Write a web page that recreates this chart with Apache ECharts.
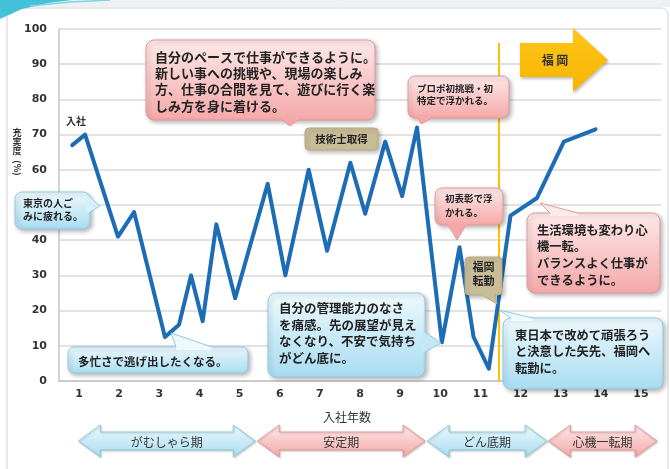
<!DOCTYPE html>
<html><head><meta charset="utf-8">
<script src="https://cdn.jsdelivr.net/npm/echarts@6/dist/echarts.min.js"></script>
<style>html,body{margin:0;padding:0;background:#fff}#c{width:670px;height:469px}</style>
</head><body><div id="c"></div>
<script>
// ---- data ----
const years = ['1','2','3','4','5','6','7','8','9','10','11','12','13','14','15'];
const pointYear = [0.83, 1.15, 1.97, 2.37, 3.14, 3.49, 3.79, 4.08, 4.42, 4.89, 5.70, 6.14, 6.72, 7.18, 7.76, 8.13, 8.63, 9.05, 9.42, 10.04, 10.48, 10.83, 11.21, 11.75, 12.41, 13.08, 13.87];
const satisfaction = [67, 70, 41, 48, 12.5, 16, 30, 17, 44.5, 23.5, 56, 30, 60, 37, 62, 47.5, 68, 52.5, 72, 11, 38, 12.5, 3.5, 47, 52, 68, 71.5];
const moveYear = 11.45;
const moveLineTop = 96;
const periodNames = ['がむしゃら期', '安定期', 'どん底期', '心機一転期'];
const periodStart = [0.98, 5.44, 9.67, 12.69];
const periodEnd = [5.39, 9.62, 12.66, 15.4];
const periodKind = ['blue', 'pink', 'blue', 'pink'];

const JP = '"Noto Sans CJK JP", "Noto Sans CJK SC", sans-serif';

const chart = echarts.init(document.getElementById('c'), null, {renderer: 'canvas'});
chart.setOption({
  animation: false,
  backgroundColor: '#ffffff',
  textStyle: {fontFamily: JP},
  grid: {left: 59, right: 9, top: 29, bottom: 88, containLabel: false},
  xAxis: [
    {type: 'category', data: years, boundaryGap: true,
     axisLine: {lineStyle: {color: '#c4c4c4', width: 1.5}}, axisTick: {show: false},
     axisLabel: {color: '#333', fontFamily: 'DejaVu Sans', fontWeight: 'bold', fontSize: 11, margin: 8},
     splitLine: {show: false}},
    {type: 'value', min: 0.5, max: 15.5, show: false}
  ],
  yAxis: {type: 'value', min: 0, max: 100, interval: 10,
    axisLine: {show: true, lineStyle: {color: '#c4c4c4', width: 1.5}}, axisTick: {show: false},
    splitLine: {lineStyle: {color: '#d9d9d9', width: 1.5}},
    axisLabel: {color: '#333', fontFamily: 'DejaVu Sans', fontWeight: 'bold', fontSize: 11, margin: 12}},
  series: [{
    type: 'line', xAxisIndex: 1, z: 5,
    data: pointYear.map((x, i) => [x, satisfaction[i]]),
    showSymbol: false, symbol: 'none',
    lineStyle: {color: '#1c6cb6', width: 4, join: 'round', cap: 'round'},
    markLine: {silent: true, symbol: 'none', label: {show: false}, z: 4,
      lineStyle: {color: '#FFC000', width: 2, type: 'solid'},
      data: [[{coord: [moveYear, 0]}, {coord: [moveYear, moveLineTop]}]]}
  }]
});

// ---- annotation styles ----
const PAL = {
  pink: {top: '#FDE9E9', bottom: '#F4A8A8', stroke: '#E39A9A'},
  blue: {top: '#EEF9FD', bottom: '#A8DCF1', stroke: '#92CADF'},
  tan:  {top: '#C9BD98', bottom: '#C4B792', stroke: '#B7AA83', flat: true}
};
function hex(c){return [1,3,5].map(i=>parseInt(c.substr(i,2),16));}
function lerp(a,b,t){const A=hex(a),B=hex(b);return 'rgb('+A.map((v,i)=>Math.round(v+(B[i]-v)*t)).join(',')+')';}
function grad(p){return p.flat ? p.top : new echarts.graphic.LinearGradient(0,0,0,1,[{offset:0,color:p.top},{offset:1,color:p.bottom}]);}

function bubble(b){
  const p = PAL[b.kind];
  const els = [];
  els.push({type:'rect', z:100, shape:{x:b.x,y:b.y,width:b.w,height:b.h,r:b.r||8},
    style:{fill:grad(p), stroke:p.stroke, lineWidth:1, shadowBlur:4, shadowOffsetX:2, shadowOffsetY:2, shadowColor:'rgba(0,0,0,0.28)'}});
  if (b.tail){
    const [a,tip,c] = b.tail;
    const n = {top:[0,3],bottom:[0,-3],left:[3,0],right:[-3,0]}[b.side];
    const t = Math.min(1,Math.max(0,((a[1]+c[1])/2-b.y)/b.h));
    const tf = p.flat ? p.top : lerp(p.top,p.bottom,t);
    els.push({type:'polygon', z:101, shape:{points:[[a[0]+n[0],a[1]+n[1]],a,tip,c,[c[0]+n[0],c[1]+n[1]]]}, style:{fill:tf}});
    els.push({type:'polyline', z:102, shape:{points:[a,tip,c]}, style:{stroke:p.stroke, lineWidth:1, fill:null}});
  }
  els.push({type:'text', z:103, style:{text:b.text, x:b.tx, y:b.ty, fill:'#222', fontSize:b.fs, fontWeight:'bold',
    fontFamily:JP, lineHeight:b.lh, verticalAlign:'top', align:b.align||'left'}});
  return els;
}

const bubbles = [
  {kind:'pink', x:146, y:40, w:229, h:80, tx:155, ty:48.8, fs:13, lh:16.3,
   text:'自分のペースで仕事ができるように。\n新しい事への挑戦や、現場の楽しみ\n方、仕事の合間を見て、遊びに行く楽\nしみ方を身に着ける。',
   side:'bottom', tail:[[282,120],[290,126],[298,120]]},
  {kind:'tan', x:305, y:128, w:73, h:22, r:4, tx:341.5, ty:132.5, fs:10.5, lh:13, align:'center', text:'技術士取得'},
  {kind:'pink', x:408, y:76, w:101, h:42, r:7, tx:417, ty:81.8, fs:9.5, lh:12.5,
   text:'プロポ初挑戦・初\n特定で浮かれる。', side:'bottom', tail:[[418,118],[421,124],[432,118]]},
  {kind:'blue', x:15, y:192, w:75, h:37, r:7, tx:23, ty:196.5, fs:10, lh:13,
   text:'東京の人ご\nみに疲れる。', side:'right', tail:[[90,197],[100,206],[90,212]]},
  {kind:'blue', x:68, y:347, w:180, h:26, r:6, tx:78, ty:355, fs:11.5, lh:14,
   text:'多忙さで逃げ出したくなる。', side:'top', tail:[[176,347],[171,333],[212,347]]},
  {kind:'blue', x:268, y:293, w:157, h:84, tx:279, ty:299.7, fs:12.5, lh:16.7,
   text:'自分の管理能力のなさ\nを痛感。先の展望が見え\nなくなり、不安で気持ち\nがどん底に。', side:'right', tail:[[425,332],[441,343],[425,352]]},
  {kind:'pink', x:435, y:188, w:68, h:37, r:7, tx:445, ty:191, fs:9.5, lh:14,
   text:'初表彰で浮\nかれる。', side:'bottom', tail:[[448,225],[457,240],[466,225]]},
  {kind:'tan', x:465, y:257, w:37, h:38, r:4, tx:483.5, ty:260, fs:11, lh:14, align:'center',
   text:'福岡\n転勤', side:'bottom', tail:[[482,295],[497,304],[495,295]]},
  {kind:'pink', x:527, y:213, w:133, h:80, tx:537, ty:221.7, fs:12.3, lh:16.7,
   text:'生活環境も変わり心\n機一転。\nバランスよく仕事が\nできるように。', side:'top', tail:[[550,213],[540,203],[578,213]]},
  {kind:'blue', x:503, y:318, w:160, h:71, tx:515, ty:326.8, fs:12.3, lh:16.5,
   text:'東日本で改めて頑張ろう\nと決意した矢先、福岡へ\n転勤に。', side:'top', tail:[[511,318],[499,310],[533,318]]}
];

const els = [];
// slide frame & decoration
els.push({type:'rect', z:0, shape:{x:0,y:0,width:670,height:7}, style:{fill:'#eef1f3'}});
els.push({type:'rect', z:1, shape:{x:7,y:8,width:661,height:475,r:6}, style:{fill:null, stroke:'#d2d2d2', lineWidth:1}});
els.push({type:'polygon', z:2, shape:{points:[[0,0],[72,0],[48,3],[22,9],[0,19]]}, style:{fill:'#42c2d8'}});
els.push({type:'polyline', z:2, shape:{points:[[30,6],[70,2],[110,0]]}, style:{stroke:'#7fd3e3', lineWidth:1.5, fill:null}});

// Fukuoka arrow
els.push({type:'polygon', z:90, shape:{points:[[520,43],[573,43],[573,28],[608,60],[573,92],[573,77],[520,77]]},
  style:{fill:new echarts.graphic.LinearGradient(0,0,0,1,[{offset:0,color:'#FFC61A'},{offset:1,color:'#F6B400'}]),
  shadowBlur:3, shadowOffsetX:1, shadowOffsetY:2, shadowColor:'rgba(0,0,0,0.25)'}});
els.push({type:'text', z:91, style:{text:'福 岡', x:555, y:60, align:'center', verticalAlign:'middle', fill:'#333', fontSize:12, fontWeight:'bold', fontFamily:JP}});

// 入社 label
els.push({type:'text', z:91, style:{text:'入社', x:76, y:121, align:'center', verticalAlign:'middle', fill:'#333', fontSize:10, fontWeight:'bold', fontFamily:JP}});

// y axis name
els.push({type:'text', z:91, style:{text:'充\n実\n度', x:17, y:127.5, align:'center', verticalAlign:'top', lineHeight:9.3, fill:'#333', fontSize:9, fontWeight:'bold', fontFamily:JP}});
els.push({type:'text', z:91, x:17, y:168, rotation:-Math.PI/2, style:{text:'(%)', x:0, y:0, align:'center', verticalAlign:'middle', fill:'#333', fontSize:9, fontWeight:'bold', fontFamily:JP}});

// x axis name
els.push({type:'text', z:91, style:{text:'入社年数', x:347, y:417, align:'center', verticalAlign:'middle', fill:'#333', fontSize:12, fontFamily:JP}});

bubbles.forEach(b => bubble(b).forEach(e => els.push(e)));

// period arrows
const cy = 441, hh = 16, sh = 9, hl = 22;
periodNames.forEach((name, i) => {
  const x0 = chart.convertToPixel({xAxisIndex: 1}, periodStart[i]);
  const x1 = chart.convertToPixel({xAxisIndex: 1}, periodEnd[i]);
  const p = PAL[periodKind[i]];
  els.push({type:'polygon', z:80, shape:{points:[[x0,cy],[x0+hl,cy-hh],[x0+hl,cy-sh],[x1-hl,cy-sh],[x1-hl,cy-hh],[x1,cy],[x1-hl,cy+hh],[x1-hl,cy+sh],[x0+hl,cy+sh],[x0+hl,cy+hh]]},
    style:{fill:grad(p), stroke:p.stroke, lineWidth:1, shadowBlur:2, shadowOffsetX:1, shadowOffsetY:1, shadowColor:'rgba(0,0,0,0.2)'}});
  els.push({type:'text', z:81, style:{text:name, x:(x0+x1)/2, y:cy+1, align:'center', verticalAlign:'middle', fill:'#333', fontSize:12, fontFamily:JP}});
});

chart.setOption({graphic: {elements: els}});
</script></body></html>
